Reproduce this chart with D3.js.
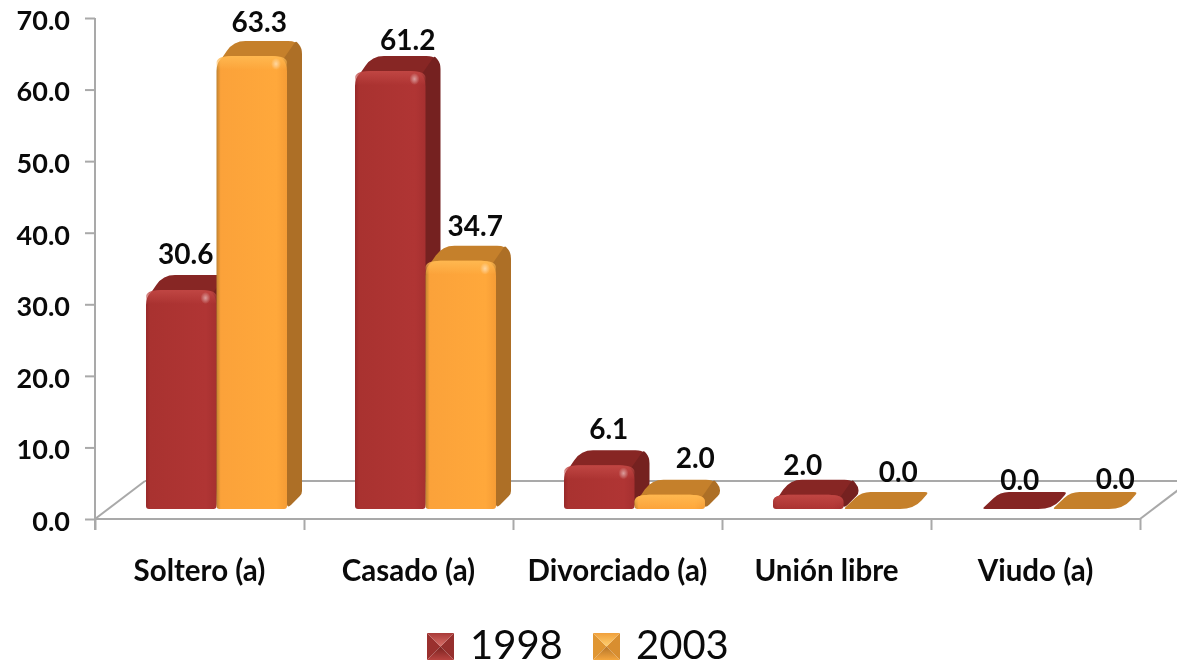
<!DOCTYPE html>
<html><head><meta charset="utf-8">
<script src="https://cdn.jsdelivr.net/npm/d3@7"></script>
<style>
html,body{margin:0;padding:0;background:#fff}
svg{display:block;filter:blur(.45px)}
text{font-family:Lato,"Open Sans",sans-serif;fill:#0a0a0a}
</style></head><body><svg id="c" width="1177" height="667"></svg>
<script>
const categories = ["Soltero (a)","Casado (a)","Divorciado (a)","Unión libre","Viudo (a)"];
const seriesNames = ["1998","2003"];
const values1998 = [30.6,61.2,6.1,2.0,0.0];
const values2003 = [63.3,34.7,2.0,0.0,0.0];
const yTicks = [0,10,20,30,40,50,60,70];

const svg = d3.select("#c");
const W=1177,H=667;
const y = d3.scaleLinear().domain([0,70]).range([519,18]);
const x = d3.scaleBand().domain(categories).range([95,1140]);
const inner = d3.scaleBand().domain(seriesNames).range([51,192]);
const floorLift=10, barDx=15, barDy=15, wallDx=50, wallDy=38;

const palette = {
 "1998":{front:["#97292a","#a93230","#b03534","#a63030"],bevel:"#c04643",top:"#872624",side:"#752120",flat:"#852523"},
 "2003":{front:["#c08230","#fba23a","#ffa83b","#f59c35"],bevel:"#ffb850",top:"#c5802b",side:"#ad6f26",flat:"#c5802b"}
};

const defs = svg.append("defs");
seriesNames.forEach(s=>{
  const p=palette[s];
  const g=defs.append("linearGradient").attr("id","f"+s);
  [[0,p.front[0]],[.06,p.front[1]],[.85,p.front[2]],[1,p.front[3]]].forEach(([o,c])=>g.append("stop").attr("offset",o).attr("stop-color",c));
  const b=defs.append("linearGradient").attr("id","b"+s).attr("x1",0).attr("x2",0).attr("y1",0).attr("y2",1);
  b.append("stop").attr("offset",0).attr("stop-color",p.bevel);
  b.append("stop").attr("offset",1).attr("stop-color",p.bevel).attr("stop-opacity",0);
  const pl=defs.append("linearGradient").attr("id","lt"+s).attr("x1",0).attr("x2",0).attr("y1",0).attr("y2",1);
  pl.append("stop").attr("offset",0).attr("stop-color",s==="1998"?"#a83a38":"#f0a03c");
  pl.append("stop").attr("offset",1).attr("stop-color",s==="1998"?"#d9706a":"#ffd070");
  const pd=defs.append("linearGradient").attr("id","ld"+s).attr("x1",0).attr("x2",0).attr("y1",0).attr("y2",1);
  pd.append("stop").attr("offset",0).attr("stop-color",s==="1998"?"#7a2220":"#b5752a");
  pd.append("stop").attr("offset",1).attr("stop-color",s==="1998"?"#b84340":"#f4a63e");
});
const hl=defs.append("radialGradient").attr("id","hl");
hl.append("stop").attr("offset",0).attr("stop-color","#fff").attr("stop-opacity",.5);
hl.append("stop").attr("offset",1).attr("stop-color","#fff").attr("stop-opacity",0);

function rounded(pts,r){
  const n=pts.length; let d="";
  pts.forEach((p,i)=>{
    const a=pts[(i+n-1)%n], b=pts[(i+1)%n];
    const rr=r[i];
    const la=Math.hypot(a[0]-p[0],a[1]-p[1])||1, lb=Math.hypot(b[0]-p[0],b[1]-p[1])||1;
    const ra=Math.min(rr,la/2), rb=Math.min(rr,lb/2);
    const s=[p[0]+(a[0]-p[0])*ra/la,p[1]+(a[1]-p[1])*ra/la];
    const e=[p[0]+(b[0]-p[0])*rb/lb,p[1]+(b[1]-p[1])*rb/lb];
    d+=(i?"L":"M")+s[0]+","+s[1]+"Q"+p[0]+","+p[1]+" "+e[0]+","+e[1];
  });
  return d+"Z";
}

const grid = svg.append("g").attr("stroke","#a9a9a9").attr("stroke-width",2).attr("fill","none");
grid.append("line").attr("x1",95).attr("y1",y(0)).attr("x2",95+wallDx).attr("y2",y(0)-wallDy);
grid.append("line").attr("x1",95+wallDx).attr("y1",y(0)-wallDy).attr("x2",W).attr("y2",y(0)-wallDy);
grid.append("line").attr("x1",1140).attr("y1",y(0)).attr("x2",1140+wallDx).attr("y2",y(0)-wallDy);

const gy = svg.append("g").attr("transform","translate(95,0)")
  .call(d3.axisLeft(y).tickValues(yTicks).tickSize(10).tickPadding(15).tickFormat(d3.format(".1f")));
const boundaries = categories.map(c=>x(c)).concat([x.range()[1]]);
const gx = svg.append("g").attr("transform",`translate(0,${y(0)})`)
  .call(d3.axisBottom(d3.scaleLinear().domain([0,W]).range([0,W])).tickValues(boundaries).tickSize(11).tickFormat(""));
[gy,gx].forEach(g=>{g.selectAll("path,line").attr("stroke","#a9a9a9").attr("stroke-width",2);});
gx.select(".domain").attr("d",`M95,0H1140`);
gy.select(".domain").attr("d",`M0,18V530`);
gy.selectAll("text").attr("font-size",27).attr("font-weight",700).attr("dy","0.42em")
  .attr("font-family","Lato").style("fill","#0a0a0a");

const rows = [];
categories.forEach((c,i)=>{
  seriesNames.forEach((s,j)=>rows.push({c,s,v:(j?values2003:values1998)[i]}));
});
const barW = inner.bandwidth();
const bars = svg.append("g").selectAll("g").data(rows).join("g");
bars.each(function(d){
  const g=d3.select(this), p=palette[d.s];
  const x0=x(d.c)+inner(d.s), x1=x0+barW;
  const yb=y(0)-floorLift, yt=y(d.v)-floorLift;
  const h=yb-yt;
  if(h<=0.5){
    g.append("path").attr("fill",p.flat)
      .attr("d",rounded([[x0,yb],[x0+barDx+3,yb-barDy-2],[x1+barDx,yb-barDy-2],[x1,yb]],[3,9,4,14]));
    return;
  }
  const R=Math.min(15,h*0.9+2), drop=Math.min(10,h);
  g.append("path").attr("fill",p.top)
    .attr("d",rounded([[x0,yt+drop],[x0+barDx+2,yt-barDy],[x1+barDx,yt-barDy],[x1,yt+drop]],[4,12,14,0]));
  g.append("path").attr("fill",p.side)
    .attr("d",rounded([[x1-5,yt+5],[x1+barDx-6,yt-barDy],[x1+barDx,yt-barDy+7],[x1+barDx,yb-barDy],[x1,yb]],[0,2,6,3,6]));
  g.append("path").attr("fill",`url(#f${d.s})`).attr("d",rounded([[x0,yb],[x0,yt],[x1,yt],[x1,yb]],[3,R,R,3]));
  const bh=Math.min(14,h);
  g.append("path").attr("fill",`url(#b${d.s})`).attr("d",rounded([[x0,yt+bh],[x0,yt],[x1,yt],[x1,yt+bh]],[0,R,R,0]));
  if(h>20) g.append("ellipse").attr("cx",x1-11).attr("cy",yt+8).attr("rx",5).attr("ry",6).attr("fill","url(#hl)");
});

const labelNudge = {
 "Soltero (a)|1998":[-3,-11],"Soltero (a)|2003":[0,-9],
 "Casado (a)|1998":[10,-6],"Casado (a)|2003":[7,-10],
 "Divorciado (a)|1998":[2,-11],"Divorciado (a)|2003":[18,-12],
 "Unión libre|1998":[-13,-5],"Unión libre|2003":[12,-12],
 "Viudo (a)|1998":[-5,-4],"Viudo (a)|2003":[20,-5]
};
svg.append("g").selectAll("text").data(rows).join("text")
  .attr("text-anchor","middle").attr("font-size",28).attr("font-weight",700)
  .attr("x",d=>x(d.c)+inner(d.s)+barW/2+barDx/2+labelNudge[d.c+"|"+d.s][0])
  .attr("y",d=>y(d.v)-floorLift-barDy+labelNudge[d.c+"|"+d.s][1])
  .text(d=>d3.format(".1f")(d.v));

svg.append("g").selectAll("text").data(categories).join("text")
  .attr("text-anchor","middle").attr("font-size",29.5).attr("font-weight",700)
  .attr("x",c=>x(c)+x.bandwidth()/2).attr("y",581).text(c=>c);

const legend = svg.append("g");
const legendX = d3.scaleOrdinal().domain(seriesNames).range([427,593]);
seriesNames.forEach(s=>{
  const lx=legendX(s), ly=633, S=27, cx=lx+S/2, cy=ly+S/2;
  const g=legend.append("g");
  g.append("path").attr("fill",s==="1998"?"#9a302e":"#e09632").attr("d",`M${lx},${ly}V${ly+S}L${cx},${cy}Z`);
  g.append("path").attr("fill",s==="1998"?"#96302e":"#d88e30").attr("d",`M${lx+S},${ly}V${ly+S}L${cx},${cy}Z`);
  g.append("path").attr("fill",`url(#lt${s})`).attr("d",`M${lx},${ly}H${lx+S}L${cx},${cy}Z`);
  g.append("path").attr("fill",`url(#ld${s})`).attr("d",`M${lx},${ly+S}H${lx+S}L${cx},${cy}Z`);
  g.append("text").attr("x",lx+43).attr("y",659).attr("font-size",40).text(s);
});
</script></body></html>
